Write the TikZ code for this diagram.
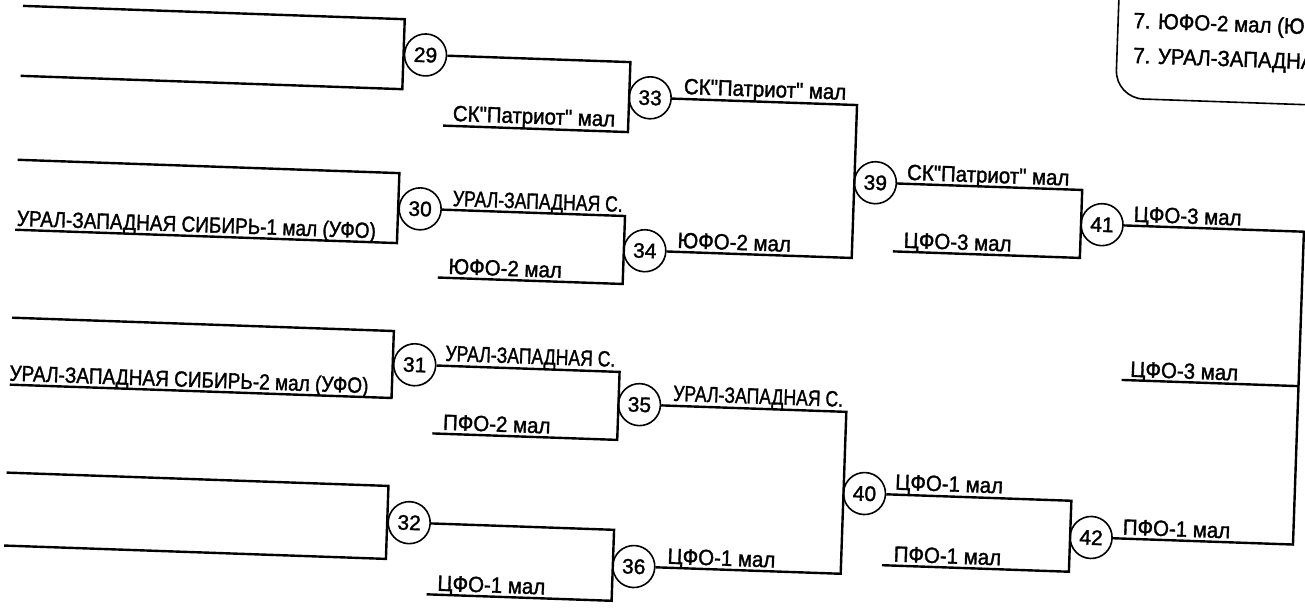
\documentclass[tikz,border=0pt]{standalone}
\usepackage{fontspec}
\setmainfont{Liberation Sans}
\newfontfamily\lblfont{Liberation Sans}[FakeBold=1.5,FakeStretch=0.93]
\newfontfamily\numfont{Liberation Sans}[FakeBold=1.5]
\newcommand\cnd[2]{\scalebox{#1}[1]{#2}}
\newcommand\qq{{\char34}}
\begin{document}
\begin{tikzpicture}[x=0.5pt,y=-0.5pt,
  ln/.style={line width=1.2pt, line join=miter},
  num/.style={draw, circle, line width=0.8pt, minimum size=21pt, inner sep=0pt, font=\numfont\fontsize{10.5}{12}\selectfont},
  lbl/.style={anchor=base west, inner sep=0pt, font=\lblfont\fontsize{11}{13}\selectfont}]
\useasboundingbox (0,0) rectangle (1305,607);
\fill[white] (0,0) rectangle (1305,607);
\clip (0,0) rectangle (1305,607);
\begin{scope}[rotate around={-2:(652,303)}, transform shape]
% match circles
\node[num] (m29) at (417,63) {29};
\node[num] (m30) at (417,217) {30};
\node[num] (m31) at (417,373) {31};
\node[num] (m32) at (417,531) {32};
\node[num] (m33) at (643,98) {33};
\node[num] (m34) at (643,251) {34};
\node[num] (m35) at (643,405) {35};
\node[num] (m36) at (643,567) {36};
\node[num] (m39) at (871,175) {39};
\node[num] (m40) at (871,486) {40};
\node[num] (m41) at (1099,209) {41};
\node[num] (m42) at (1099,522) {42};
% free ends
\coordinate (s29a) at (13,28);  \coordinate (s29b) at (13,98);
\coordinate (s30a) at (13,182); \coordinate (s30b) at (13,252);
\coordinate (s31a) at (13,340); \coordinate (s31b) at (13,407);
\coordinate (s32a) at (13,495); \coordinate (s32b) at (13,568);
\coordinate (s33b) at (437,133);
\coordinate (s34b) at (437,285);
\coordinate (s35b) at (437,441);
\coordinate (s36b) at (437,602);
\coordinate (s41b) at (891,243);
\coordinate (s42b) at (891,557);
\coordinate (s3rd) at (1124,363.5);
\coordinate (fin) at (1301,363.5);
% round 1
\draw[ln] (s29a) -- (395,28) -- (395,98) -- (s29b);
\draw[ln] (s30a) -- (395,182) -- (395,252) -- (s30b);
\draw[ln] (s31a) -- (395,340) -- (395,407) -- (s31b);
\draw[ln] (s32a) -- (395,495) -- (395,568) -- (s32b);
% round 2
\draw[ln] (m29.east) -- (622,63) -- (622,133) -- (s33b);
\draw[ln] (m30.east) -- (622,217) -- (622,285) -- (s34b);
\draw[ln] (m31.east) -- (622,373) -- (622,441) -- (s35b);
\draw[ln] (m32.east) -- (622,531) -- (622,602) -- (s36b);
% round 3
\draw[ln] (m33.east) -- (850,98) -- (850,251) -- (m34.east);
\draw[ln] (m35.east) -- (850,405) -- (850,567) -- (m36.east);
% round 4
\draw[ln] (m39.east) -- (1078,175) -- (1078,243) -- (s41b);
\draw[ln] (m40.east) -- (1078,486) -- (1078,557) -- (s42b);
% final
\draw[ln] (m41.east) -- (1301,209) -- (1301,522) -- (m42.east);
\draw[ln] (fin) -- (s3rd);
% labels
\node[lbl] (t30b) at (14,248) {\cnd{0.93}{УРАЛ-ЗАПАДНАЯ СИБИРЬ-1 мал (УФО)}};
\node[lbl] (t31b) at (12,403) {\cnd{0.93}{УРАЛ-ЗАПАДНАЯ СИБИРЬ-2 мал (УФО)}};
\node[lbl] (t33b) at (446,128) {СК\qq Патриот\qq{} мал};
\node[lbl] (t34a) at (449,213) {\cnd{0.86}{УРАЛ-ЗАПАДНАЯ С.}};
\node[lbl] (t34b) at (447,281) {ЮФО-2 мал};
\node[lbl] (t35a) at (447,368) {\cnd{0.86}{УРАЛ-ЗАПАДНАЯ С.}};
\node[lbl] (t35b) at (447,437) {ПФО-2 мал};
\node[lbl] (t36b) at (447,598) {ЦФО-1 мал};
\node[lbl] (t39a) at (676,93) {СК\qq Патриот\qq{} мал};
\node[lbl] (t39b) at (675,247) {ЮФО-2 мал};
\node[lbl] (t40a) at (676,400) {\cnd{0.86}{УРАЛ-ЗАПАДНАЯ С.}};
\node[lbl] (t40b) at (676,563) {ЦФО-1 мал};
\node[lbl] (t41a) at (902,171) {СК\qq Патриот\qq{} мал};
\node[lbl] (t41b) at (901,239) {ЦФО-3 мал};
\node[lbl] (t42a) at (901,481) {ЦФО-1 мал};
\node[lbl] (t42b) at (902,553) {ПФО-1 мал};
\node[lbl] (tf1) at (1130,205) {ЦФО-3 мал};
\node[lbl] (tf3) at (1132,360) {ЦФО-3 мал};
\node[lbl] (tf2) at (1130,518) {ПФО-1 мал};
% result box
\draw[line width=0.8pt, rounded corners=14pt] (1108,-80) -- (1108,82) -- (1380,82);
\node[lbl] (r1) at (1123,11.4) {7. ЮФО-2 мал (ЮФО)};
\node[lbl] (r2) at (1124,46.3) {7. УРАЛ-ЗАПАДНАЯ};
\end{scope}
\end{tikzpicture}
\end{document}
